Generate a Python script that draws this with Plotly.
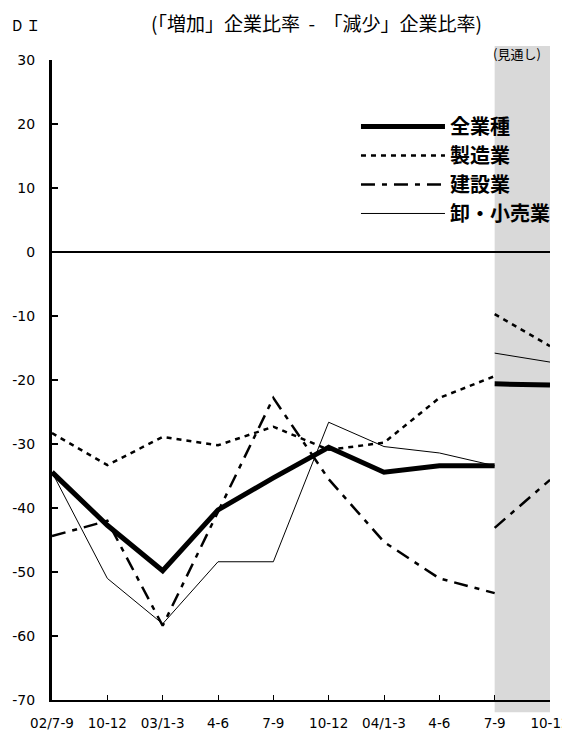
import plotly.graph_objects as go

categories = ["02/7-9", "10-12", "03/1-3", "4-6", "7-9", "10-12", "04/1-3", "4-6", "7-9", "10-12"]
y_ticks = [-70, -60, -50, -40, -30, -20, -10, 0, 10, 20, 30]
y_tick_labels = ["-70", "-60", "-50", "-40", "-30", "-20", "-10", "0", "10", "20", "30"]
x_actual = list(range(9))
x_forecast = [8, 9]

all_actual = [-34.4, -42.7, -49.8, -40.3, -35.3, -30.5, -34.4, -33.4, -33.4]
all_forecast = [-20.6, -20.8]
mfg_actual = [-28.3, -33.3, -28.9, -30.2, -27.3, -30.9, -29.8, -22.8, -19.4]
mfg_forecast = [-9.7, -14.7]
con_actual = [-44.4, -42.0, -58.4, -40.5, -22.8, -35.5, -45.3, -51.0, -53.3]
con_forecast = [-43.1, -35.6]
ret_actual = [-34.4, -51.0, -58.1, -48.4, -48.4, -26.6, -30.4, -31.4, -33.4]
ret_forecast = [-15.8, -17.2]

series = [
    ("全業種", all_actual, all_forecast, dict(color="black", width=5)),
    ("製造業", mfg_actual, mfg_forecast, dict(color="black", width=2.5, dash="5px,5px")),
    ("建設業", con_actual, con_forecast, dict(color="black", width=2.5, dash="14px,7px,5px,7px")),
    ("卸・小売業", ret_actual, ret_forecast, dict(color="black", width=1)),
]

fig = go.Figure()
for i, (name, act, fc, line) in enumerate(series):
    fig.add_trace(go.Scatter(x=x_actual, y=act, mode="lines", name=name, line=line,
                             legendgroup=f"g{i}", showlegend=True))
    fig.add_trace(go.Scatter(x=x_forecast, y=fc, mode="lines", name=name, line=line,
                             legendgroup=f"g{i}", showlegend=False))

# forecast shading
fig.add_shape(type="rect", xref="x domain", yref="y domain", x0=8/9, x1=1.0, y0=-0.019, y1=1.022,
              fillcolor="#d9d9d9", line_width=0, layer="below")

fig.update_layout(
    width=562, height=723,
    margin=dict(l=44, r=20, t=52, b=31, autoexpand=False),
    plot_bgcolor="rgba(0,0,0,0)", paper_bgcolor="white",
    font=dict(family="DejaVu Sans", size=14, color="black"),
    showlegend=True,
    legend=dict(x=0.6104, y=0.9266, xanchor="left", yanchor="top", bgcolor="rgba(0,0,0,0)",
                font=dict(family="Noto Sans CJK JP", size=20, color="black", weight="bold"),
                itemwidth=84, traceorder="grouped", tracegroupgap=0),
    xaxis=dict(range=[0, 9], tickmode="array", tickvals=list(range(10)), ticktext=categories,
               showgrid=False, zeroline=False, showline=True, linecolor="black", linewidth=2,
               ticks="inside", ticklen=5, tickwidth=1, tickcolor="black", ticklabelstandoff=10,
               ticklabeloverflow="allow", tickfont=dict(family="DejaVu Sans", size=13.5, color="black"),
               automargin=False),
    yaxis=dict(range=[-70, 30], tickmode="array", tickvals=y_ticks, ticktext=y_tick_labels,
               showgrid=False, zeroline=True, zerolinecolor="black", zerolinewidth=1.8,
               showline=True, linecolor="black", linewidth=3,
               ticks="inside", ticklen=6, tickwidth=1.5, tickcolor="black", ticklabelstandoff=11,
               tickfont=dict(family="DejaVu Sans", size=14, color="black"), automargin=False),
)

fig.add_annotation(text="(「増加」企業比率  -  「減少」企業比率)", xref="paper", yref="paper",
                   x=0.532, y=1.0, yshift=38, xanchor="center", yanchor="middle", showarrow=False,
                   font=dict(family="Noto Sans CJK JP", size=19))
fig.add_annotation(text="D Ｉ", xref="paper", yref="paper", x=0, xshift=-42, y=1.0, yshift=36,
                   xanchor="left", yanchor="middle", showarrow=False,
                   font=dict(family="Noto Sans CJK JP", size=15))
fig.add_annotation(text="(見通し)", xref="paper", yref="paper", x=0.934, y=1.0, yshift=7,
                   xanchor="center", yanchor="middle", showarrow=False,
                   font=dict(family="Noto Sans CJK JP", size=13))

fig.write_html("out.html")
